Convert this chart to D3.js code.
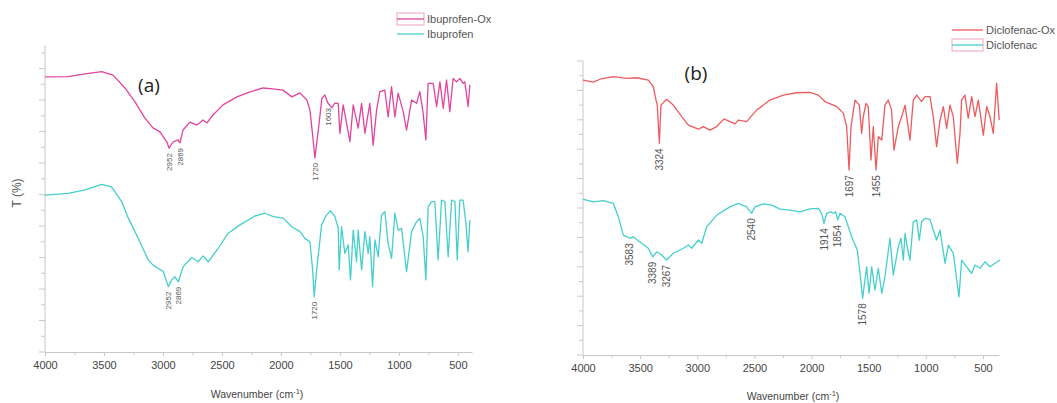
<!DOCTYPE html>
<html><head><meta charset="utf-8">
<script src="https://cdn.jsdelivr.net/npm/d3@7"></script>
<style>
html,body{margin:0;padding:0;background:#fff;}
svg{display:block;font-family:"Liberation Sans",Arial,sans-serif;}
</style></head>
<body>
<svg id="c" width="1057" height="403"></svg>
<script>
// ---------- DATA ----------
const xTickLabels = [4000, 3500, 3000, 2500, 2000, 1500, 1000, 500];
const xMinorTicks = [3750, 3250, 2750, 2250, 1750, 1250, 750];

// [wavenumber, T (%)]
const ibuprofenOx = [
[4000,89.6],[3805,89.7],[3661,90.6],[3519,91.3],[3424,90.2],[3322,86.0],[3237,81.5],[3153,76.2],[3085,73.0],
[3025,71.7],[2966,68.4],[2949,66.4],[2915,68.4],[2873,69.1],[2856,68.1],[2830,72.3],[2771,74.9],[2712,73.9],
[2661,75.6],[2627,74.6],[2576,77.2],[2491,80.5],[2373,83.1],[2263,84.7],[2152,86.0],[2068,85.7],[1983,85.3],
[1907,83.1],[1839,84.4],[1780,82.1],[1754,78.8],[1729,70.0],[1712,63.2],[1686,71.3],[1652,82.7],[1627,83.7],
[1602,81.1],[1568,79.5],[1542,81.1],[1514,81.0],[1500,71.2],[1472,80.5],[1415,68.5],[1387,80.5],[1345,72.9],
[1316,81.0],[1288,71.2],[1246,81.0],[1218,67.4],[1189,78.8],[1161,84.8],[1119,85.3],[1091,76.6],[1062,86.4],
[1034,76.6],[1006,84.3],[963,78.3],[935,72.3],[892,82.1],[850,81.0],[822,84.8],[794,77.7],[771,69.1],[752,87.5],
[709,87.5],[680,79.9],[652,88.0],[624,79.4],[596,88.6],[568,78.3],[540,89.1],[511,88.0],[483,89.1],[455,87.5],
[441,88.0],[413,79.9],[398,87.0]
];
const ibuprofen = [
[4000,51.1],[3803,51.7],[3661,52.8],[3519,54.6],[3435,53.8],[3350,49.0],[3294,43.6],[3209,37.0],[3125,30.0],
[3082,28.2],[2997,26.2],[2955,21.3],[2926,23.5],[2898,24.5],[2870,22.9],[2828,27.8],[2757,30.8],[2701,29.4],
[2658,31.3],[2616,29.4],[2531,33.8],[2447,38.7],[2347,41.4],[2220,44.3],[2136,45.2],[2065,44.1],[1980,43.6],
[1909,40.8],[1839,39.2],[1797,37.0],[1754,35.9],[1731,26.7],[1718,18.0],[1697,26.7],[1655,41.4],[1613,44.6],
[1579,46.0],[1542,44.1],[1514,40.3],[1506,26.7],[1486,40.8],[1458,32.1],[1430,34.9],[1410,23.5],[1387,39.7],
[1359,29.4],[1345,39.7],[1316,26.7],[1288,39.2],[1260,32.1],[1246,37.6],[1223,21.3],[1203,36.5],[1175,31.0],
[1147,44.6],[1119,45.7],[1091,35.4],[1062,30.5],[1034,45.2],[1006,39.7],[977,40.3],[935,26.2],[892,39.2],
[850,42.4],[822,43.5],[794,37.6],[771,23.5],[752,47.3],[723,49.0],[695,49.0],[667,30.0],[638,49.5],[610,49.0],
[582,31.0],[553,49.5],[525,49.0],[505,30.0],[483,49.5],[455,49.5],[432,41.9],[413,32.7],[398,43.0]
];
const diclofenacOx = [
[4000,93.5],[3910,92.8],[3851,93.8],[3735,94.7],[3618,94.1],[3530,94.3],[3429,93.5],[3385,91.3],[3361,86.7],
[3350,85.0],[3332,72.0],[3318,85.0],[3268,87.0],[3210,85.0],[3136,81.1],[3078,78.2],[2991,76.8],[2947,77.7],
[2889,76.5],[2830,77.7],[2766,80.3],[2714,79.4],[2670,78.6],[2641,79.9],[2568,79.4],[2481,83.3],[2364,86.7],
[2247,88.4],[2130,89.2],[2014,89.3],[1941,88.4],[1883,86.2],[1780,84.5],[1722,82.2],[1693,77.7],[1672,62.9],
[1655,77.7],[1620,86.7],[1582,85.0],[1562,75.4],[1547,81.1],[1524,85.6],[1504,84.5],[1480,66.3],[1460,77.7],
[1436,62.9],[1416,74.3],[1386,73.1],[1358,85.0],[1329,86.7],[1300,83.3],[1279,69.7],[1241,77.7],[1211,81.1],
[1182,85.0],[1139,73.1],[1110,86.7],[1080,88.4],[1037,86.2],[1008,87.9],[964,87.9],[935,81.1],[906,70.9],
[876,79.9],[847,84.5],[818,77.1],[789,85.0],[760,81.1],[725,65.2],[701,75.4],[687,86.7],[658,88.4],[629,80.5],
[599,87.9],[570,81.1],[541,86.7],[497,74.8],[468,84.5],[439,81.1],[410,75.4],[381,92.4],[358,79.9]
];
const diclofenac = [
[4000,53.0],[3910,52.1],[3822,52.5],[3735,51.6],[3691,47.0],[3647,40.8],[3589,39.7],[3560,40.2],[3486,38.0],
[3429,36.3],[3390,33.4],[3355,35.1],[3311,34.0],[3268,32.3],[3210,34.6],[3122,36.3],[3078,37.4],[3049,36.3],
[2991,39.1],[2961,38.0],[2918,43.6],[2830,47.6],[2714,50.4],[2641,51.6],[2568,50.4],[2524,48.2],[2495,50.4],
[2422,51.4],[2349,51.0],[2276,49.6],[2189,49.3],[2101,48.7],[2014,49.7],[1941,49.9],[1912,48.2],[1891,44.8],
[1868,48.2],[1833,48.7],[1810,48.2],[1789,48.7],[1771,45.9],[1751,48.2],[1708,47.0],[1649,40.2],[1600,35.7],
[1576,27.8],[1553,19.3],[1533,25.5],[1518,30.0],[1497,21.0],[1474,30.0],[1445,22.1],[1416,29.5],[1386,21.0],
[1358,26.6],[1314,39.7],[1285,27.2],[1241,36.8],[1218,39.7],[1197,32.3],[1182,41.4],[1153,34.6],[1139,32.3],
[1110,45.3],[1080,45.9],[1057,39.1],[1037,45.3],[1008,46.5],[964,46.1],[935,42.5],[906,39.1],[876,42.5],
[832,31.2],[803,37.4],[760,34.6],[730,25.5],[710,19.8],[687,32.3],[643,30.0],[599,27.8],[570,30.6],[526,29.5],
[483,31.7],[439,30.0],[395,31.2],[351,32.3]
];

// [label, wavenumber of the marked dip in the drawn trace]
const ibuOxPeaks = [["2952", 2949], ["2869", 2856], ["1720", 1712], ["1603", 1602]];
const ibuPeaks = [["2952", 2955], ["2869", 2870], ["1720", 1718]];
const dicOxPeaks = [["3324", 3332], ["1697", 1672], ["1455", 1436]];
const dicPeaks = [["3583", 3589], ["3389", 3390], ["3267", 3268], ["2540", 2524], ["1914", 1891], ["1854", 1771], ["1578", 1553]];

const panelTitles = ["(a)", "(b)"];
const legendLeft = ["Ibuprofen-Ox", "Ibuprofen"];
const legendRight = ["Diclofenac-Ox", "Diclofenac"];

// ---------- STYLE ----------
const C_MAG = "#e2449c", C_CYAN = "#45cfcb", C_RED = "#ee5b5e";
const AXIS = "#c8c8c8", TXT = "#444";

const svg = d3.select("#c");

function panel(cfg) {
  const g = svg.append("g");
  const x = d3.scaleLinear().domain(cfg.xDomain).range(cfg.xRange);
  const y = d3.scaleLinear().domain([0, 100]).range(cfg.yRange);

  // y axis
  g.append("line").attr("x1", cfg.xRange[0]).attr("x2", cfg.xRange[0])
    .attr("y1", cfg.yRange[0]).attr("y2", cfg.yRange[1]).attr("stroke", AXIS).attr("stroke-width", 1);
  cfg.yTicks.forEach((v, i) => {
    g.append("line").attr("x1", cfg.xRange[0]).attr("x2", cfg.xRange[0] - (i % 2 === 0 ? 6 : 4))
      .attr("y1", y(v)).attr("y2", y(v)).attr("stroke", AXIS).attr("stroke-width", 1);
  });
  // x axis
  const xa = g.append("g").attr("transform", `translate(0,${cfg.yRange[0]})`)
    .call(d3.axisBottom(x).tickValues(xTickLabels).tickSize(4).tickSizeOuter(0).tickPadding(5).tickFormat(d3.format("d")));
  xa.select(".domain").attr("stroke", AXIS);
  xa.selectAll(".tick line").attr("stroke", AXIS);
  xa.selectAll("text").attr("fill", TXT).attr("font-size", 11);
  g.append("g").attr("transform", `translate(0,${cfg.yRange[0]})`)
    .call(d3.axisBottom(x).tickValues(xMinorTicks).tickSize(3).tickFormat(""))
    .call(s => { s.select(".domain").remove(); s.selectAll("line").attr("stroke", AXIS); });

  // axis label
  const t = g.append("text").attr("x", cfg.xLabelX).attr("y", cfg.xLabelY).attr("text-anchor", "middle")
    .attr("fill", TXT).attr("font-size", 10.5).text("Wavenumber (cm");
  t.append("tspan").attr("dy", -4).attr("font-size", 7.5).text("-1");
  t.append("tspan").attr("dy", 4).text(")");

  const line = d3.line().x(d => x(d[0])).y(d => y(d[1]));
  cfg.series.forEach(s => {
    g.append("path").datum(s.data).attr("d", line).attr("fill", "none")
      .attr("stroke", s.color).attr("stroke-width", 1.3).attr("stroke-linejoin", "round");
    // peak labels: placed just below the marked dip
    s.peaks.forEach(([lab, wn]) => {
      const pt = s.data.find(d => d[0] === wn);
      g.append("text")
        .attr("transform", `translate(${x(wn)},${y(pt[1]) + 5}) rotate(-90)`)
        .attr("text-anchor", "end").attr("dy", "0.35em")
        .attr("font-size", cfg.peakFont).attr("fill", "#555").text(lab);
    });
  });

  g.append("text").attr("x", cfg.titleX).attr("y", cfg.titleY).attr("text-anchor", "middle")
    .attr("font-family", "'Open Sans','Liberation Sans',sans-serif")
    .attr("font-size", 19).attr("fill", "#222").text(cfg.title);
  return { x, y };
}

panel({
  xDomain: [4000, 380], xRange: [45, 472], yRange: [352, 45],
  yTicks: d3.range(0, 20).map(k => k * 100 / 19.5),
  series: [
    { data: ibuprofenOx, color: C_MAG, peaks: ibuOxPeaks },
    { data: ibuprofen, color: C_CYAN, peaks: ibuPeaks }
  ],
  peakFont: 8, title: panelTitles[0], titleX: 149, titleY: 92,
  xLabelX: 257, xLabelY: 398
});
panel({
  xDomain: [4000, 360], xRange: [583, 999], yRange: [355, 61],
  yTicks: d3.range(0, 101, 5),
  series: [
    { data: diclofenacOx, color: C_RED, peaks: dicOxPeaks },
    { data: diclofenac, color: C_CYAN, peaks: dicPeaks }
  ],
  peakFont: 10, title: panelTitles[1], titleX: 696, titleY: 80,
  xLabelX: 793, xLabelY: 400
});

// y label
svg.append("text").attr("transform", "translate(21,193) rotate(-90)").attr("text-anchor", "middle")
  .attr("font-size", 12).attr("fill", "#555").text("T (%)");

// legends
function legend(x0, y0, names, colors, boxed) {
  const g = svg.append("g");
  const w = x0 > 900 ? 31 : 27;
  names.forEach((n, i) => {
    const yy = y0 + i * 15;
    if (i === boxed) {
      g.append("rect").attr("x", x0).attr("y", yy - 6).attr("width", w).attr("height", 12)
        .attr("fill", "none").attr("stroke", "#f3a3b6").attr("stroke-width", 1);
    }
    g.append("line").attr("x1", x0).attr("x2", x0 + w).attr("y1", yy).attr("y2", yy)
      .attr("stroke", colors[i]).attr("stroke-width", 1.3);
    g.append("text").attr("x", x0 + w + 3).attr("y", yy + 4).attr("font-size", 11)
      .attr("fill", "#555").text(n);
  });
}
legend(397, 19, legendLeft, [C_MAG, C_CYAN], 0);
legend(952, 30, legendRight, [C_RED, C_CYAN], 1);
</script>
</body></html>
